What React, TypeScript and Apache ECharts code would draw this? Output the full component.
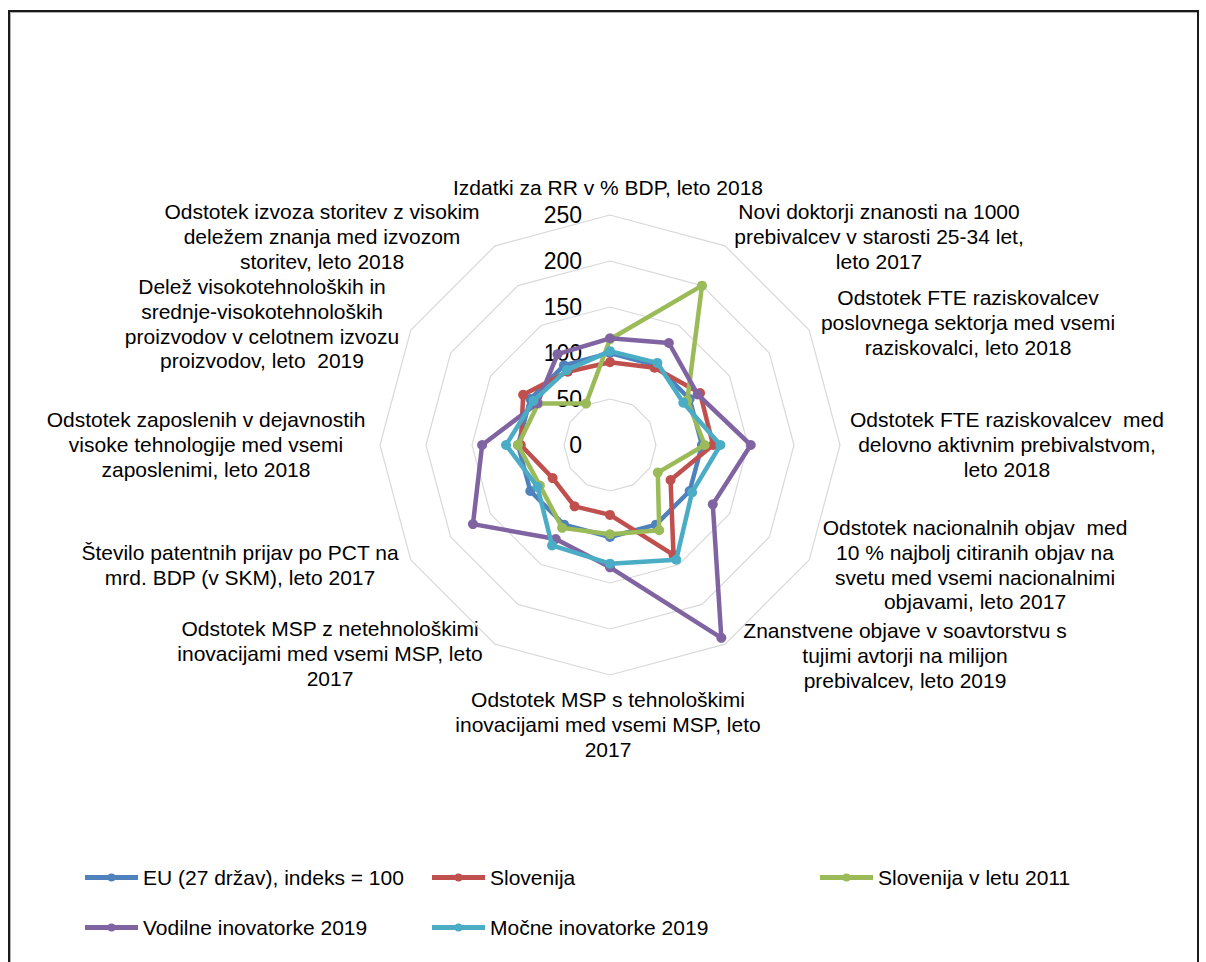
import React, { useEffect, useRef } from 'react';
import * as echarts from 'echarts';

// Axis categories, in the clockwise order of the original (Excel) chart, starting at the top
const categories: string[] = [
  'Izdatki za RR v % BDP, leto 2018',
  'Novi doktorji znanosti na 1000\nprebivalcev v starosti 25-34 let,\nleto 2017',
  'Odstotek FTE raziskovalcev\nposlovnega sektorja med vsemi\nraziskovalci, leto 2018',
  'Odstotek FTE raziskovalcev  med\ndelovno aktivnim prebivalstvom,\nleto 2018',
  'Odstotek nacionalnih objav  med\n10 % najbolj citiranih objav na\nsvetu med vsemi nacionalnimi\nobjavami, leto 2017',
  'Znanstvene objave v soavtorstvu s\ntujimi avtorji na milijon\nprebivalcev, leto 2019',
  'Odstotek MSP s tehnološkimi\ninovacijami med vsemi MSP, leto\n2017',
  'Odstotek MSP z netehnološkimi\ninovacijami med vsemi MSP, leto\n2017',
  'Število patentnih prijav po PCT na\nmrd. BDP (v SKM), leto 2017',
  'Odstotek zaposlenih v dejavnostih\nvisoke tehnologije med vsemi\nzaposlenimi, leto 2018',
  'Delež visokotehnoloških in\nsrednje-visokotehnoloških\nproizvodov v celotnem izvozu\nproizvodov, leto  2019',
  'Odstotek izvoza storitev z visokim\ndeležem znanja med izvozom\nstoritev, leto 2018',
];

const seriesNames: string[] = [
  'EU (27 držav), indeks = 100',
  'Slovenija',
  'Slovenija v letu 2011',
  'Vodilne inovatorke 2019',
  'Močne inovatorke 2019',
];

const euValues: number[] = [100, 100, 100, 100, 100, 100, 100, 100, 100, 100, 100, 100];
const sloveniaValues: number[] = [90, 97, 113, 112, 76, 138, 76, 77, 72, 97, 109, 92];
const slovenia2011Values: number[] = [115, 200, 97, 103, 60, 107, 97, 104, 88, 100, 90, 52];
const leadersValues: number[] = [116, 128, 110, 153, 129, 242, 133, 118, 172, 139, 91, 114];
const strongValues: number[] = [102, 103, 92, 120, 103, 144, 129, 126, 91, 113, 96, 94];

const axisMax = 250;
const axisStep = 50;

// ---- layout / style (kept apart from data) ----
const colors = ['#4F81BD', '#C0504D', '#9BBB59', '#8064A2', '#4BACC6'];
const FONT = '"Liberation Sans", Arial, sans-serif';
const CENTER: [number, number] = [610, 445];
const RADIUS = 230;
const LABEL_FONT = 21;
const LINE_H = 24.6;
// centre-x and centre-y of the first line of each category label
const labelPos: [number, number][] = [
  [608, 188],
  [879, 212],
  [968, 298],
  [1007, 420],
  [975, 528],
  [905, 631],
  [608, 700],
  [330, 629],
  [240, 553],
  [206, 420],
  [262, 287],
  [322, 212],
];
const legendPos: [number, number][] = [
  [85, 867],
  [432, 867],
  [820, 867],
  [85, 917],
  [432, 917],
];
const LEGEND_ICON = 'path://M0,4.5 L53,4.5 L53,9.5 L0,9.5 Z M22.5,7 A4,4 0 1 1 30.5,7 A4,4 0 1 1 22.5,7 Z';

// ECharts places radar indicators counter-clockwise; reorder to get the clockwise layout
const order = categories.map((_, i) => (categories.length - i) % categories.length);

export default function App() {
  const ref = useRef<HTMLDivElement>(null);

  useEffect(() => {
    if (!ref.current) return;
    const chart = echarts.init(ref.current, undefined, { renderer: 'svg' });

    const allValues = [euValues, sloveniaValues, slovenia2011Values, leadersValues, strongValues];

    const indicator = order.map((ci, j) => {
      const ind: any = { name: categories[ci], min: 0, max: axisMax };
      if (j === 0) {
        ind.axisLabel = {
          show: true,
          fontSize: 23,
          color: '#000',
          fontFamily: FONT,
          margin: 28,
        };
      }
      return ind;
    });

    const series = allValues.map((vals, si) => ({
      type: 'radar',
      name: seriesNames[si],
      z: 2 + si,
      symbol: 'circle',
      symbolSize: 10,
      lineStyle: { width: 4.5, color: colors[si] },
      itemStyle: { color: colors[si], borderWidth: 0 },
      data: [{ name: seriesNames[si], value: order.map((ci) => vals[ci]) }],
    }));

    const graphic = categories.map((txt, i) => ({
      type: 'text',
      x: labelPos[i][0],
      y: labelPos[i][1] - LINE_H / 2,
      silent: true,
      style: {
        text: txt,
        align: 'center',
        verticalAlign: 'top',
        fontSize: LABEL_FONT,
        fontFamily: FONT,
        lineHeight: LINE_H,
        fill: '#000',
      },
    }));

    const legend = seriesNames.map((n, i) => ({
      data: [n],
      left: legendPos[i][0],
      top: legendPos[i][1],
      padding: 0,
      itemWidth: 53,
      itemHeight: 14,
      icon: LEGEND_ICON,
      itemStyle: { borderWidth: 0 },
      textStyle: { fontSize: LABEL_FONT, color: '#000', fontFamily: FONT },
      selectedMode: false,
    }));

    chart.setOption({
      animation: false,
      backgroundColor: '#ffffff',
      textStyle: { fontFamily: FONT },
      color: colors,
      radar: {
        center: CENTER,
        radius: RADIUS,
        startAngle: 90,
        splitNumber: axisMax / axisStep,
        shape: 'polygon',
        indicator,
        axisName: { show: false },
        axisLine: { show: false },
        axisTick: { show: false },
        axisLabel: { show: false },
        splitLine: { lineStyle: { color: '#d9d9d9', width: 1.2 } },
        splitArea: { show: false },
      },
      legend,
      graphic,
      series,
    });

    return () => chart.dispose();
  }, []);

  return (
    <div style={{ position: 'absolute', left: 0, top: 0, width: 1206, height: 962, overflow: 'hidden' }}>
      <div ref={ref} style={{ position: 'absolute', left: 0, top: 0, width: 1206, height: 962 }} />
      <div
        style={{
          position: 'absolute',
          left: 8,
          top: 10,
          width: 1191,
          height: 960,
          border: '2px solid #1a1a1a',
          boxShadow: 'inset 1px 1px 0 #b0b0b0',
          boxSizing: 'border-box',
          pointerEvents: 'none',
        }}
      />
    </div>
  );
}
